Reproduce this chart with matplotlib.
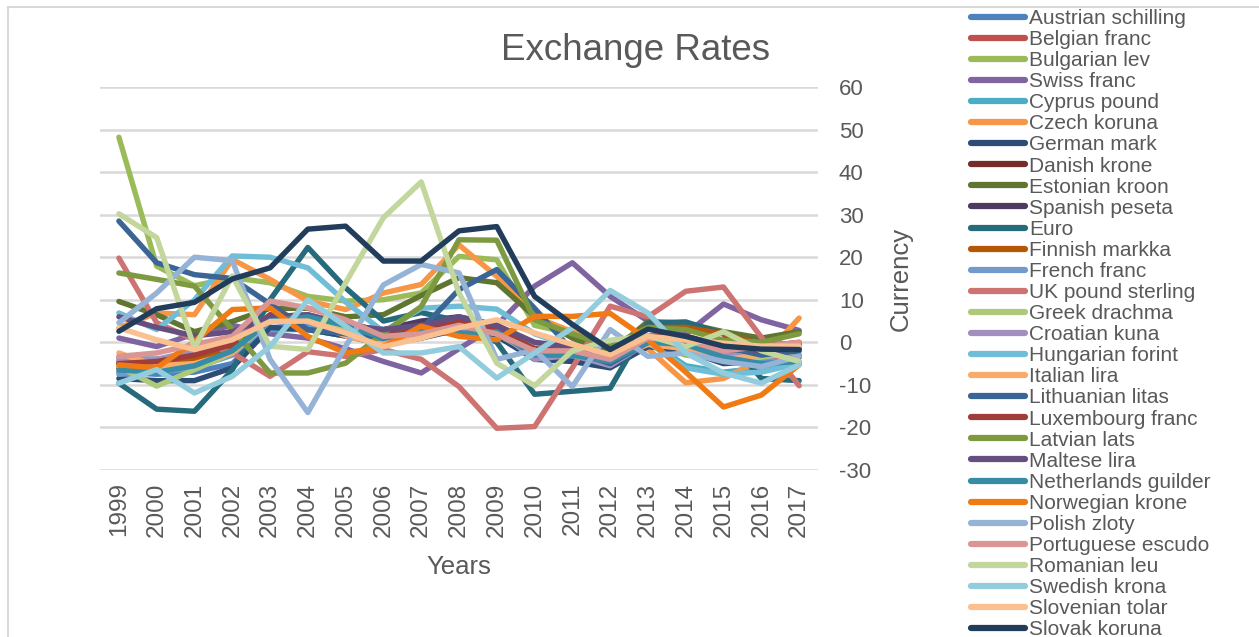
import numpy as np
import matplotlib
matplotlib.use('Agg')
from matplotlib import pyplot as plt
from matplotlib.patches import Rectangle

# data
years = [str(y) for y in range(1999, 2018)]

austrian_schilling = [-7, -7.5, -7, -5, 3.5, 3, 1.5, 0, 1.5, 3, 1.5, -3.5, -3.5, -5.5, -0.5, -1.5, -4.5, -4, -3]
belgian_franc = [-4.5, -4, -3, 0, 6, 5.5, 4, 2.5, 3, 4.5, 3, -2, -2, -4, 1, 1, -1.5, -1, -0.5]
bulgarian_lev = [48.2, 17.9, 13.3, 15.2, 14, 10.8, 9.7, 10, 11.6, 20.2, 19.4, 4, 2, -2, 0, -3, -4, -3, -1]
swiss_franc = [1, -1, 2, 4, 2, 1, -1.5, -4.5, -7.2, -1.5, 4, 13.2, 18.7, 10.8, 5, 2, 9, 5.3, 2.8]
cyprus_pound = [-3.5, -4, -3, -1, 3, 3, 1.5, 1, 2, 3, 2, -2, -2.5, -3.5, 0.5, -5.5, -7, -6, -5]
czech_koruna = [3.4, 6.9, 6.5, 19.5, 14.8, 9.7, 7.7, 11.6, 13.6, 22.9, 15.5, 6, 2.5, -1, -1.5, -9.5, -8.5, -4, 5.7]
german_mark = [-8.5, -9, -9, -6, 3.5, 3, 1.5, -0.5, 1, 3, 1.5, -4, -4.5, -6, -1, -2, -5, -4.5, -3.5]
danish_krone = [-6, -5, -4.5, -1, 6, 5.5, 4, 2, 3, 4, 2.5, -2, -2.5, -4.5, 1, 1, -2, -1.5, -1]
estonian_kroon = [9.6, 6.5, 2.5, 4.9, 8, 8, 6, 6.5, 11, 15.2, 14, 6.1, 1, -2.5, 4.9, 4.5, 2.5, 1, 2.5]
spanish_peseta = [-5, -4.5, -3, 0, 6, 6, 4, 3, 5, 6, 4, -1.5, -2, -5, 0.5, 0.5, -2, -2, -1]
euro = [-9.6, -15.7, -16.2, -6.5, 10, 22.3, 12.8, 5, 7, 5, 0, -12.2, -11.5, -10.8, 4.5, 4.8, 2, -8.5, -9]
finnish_markka = [-6, -5.5, -4, -1, 5, 5, 3, 1.5, 3, 4.5, 3, -1, -1, -3, 3.5, 3.5, 2, -0.5, -0.5]
french_franc = [-7.5, -7, -6, -3, 5, 4, 2.5, 0.5, 2, 3.5, 2, -3, -3, -5, 0, -1, -4, -4, -3]
uk_pound = [19.8, 4.6, 0.6, -2.5, -8, -2.2, -3.3, -1.7, -4, -10.4, -20.2, -19.8, -6, 8.5, 6, 12, 13, 1.2, -10.2]
greek_drachma = [-5.7, -10.3, -6.4, -2.5, 5, 6, 3.5, 1.5, 3, 4, 3, -1, -1.5, -3.5, 1, -2, -4, -3.5, -2]
croatian_kuna = [-4, -4, -2, 1, 6, 6.5, 4.5, 2.5, 3, 4.5, 3, -4, -3, -5.5, 0, -1, -3, -3, -1]
hungarian_forint = [6.9, 3, 10, 20.3, 20, 17.5, 9.5, 2.5, 8, 8.5, 7.8, 2, -1, -3, 0, -6, -7.5, -7, -5]
italian_lira = [-2.5, -5.5, -5, -2.5, 6, 5, 1.5, -0.5, 2, 4, 2, -2.5, -3, -4, -0.5, -1.5, -4, -3, -2]
lithuanian_litas = [28.5, 18.7, 15.9, 15, 9, 3, 2, 1, 3, 12.4, 17.1, 8, -2, -5, 0, 1, -1, -3, -2]
luxembourg_franc = [-5, -4.5, -3, -0.5, 6.5, 6, 4.5, 2.5, 3.5, 5, 3, -1.5, -2, -4, 1.5, 1.5, -1, -1, 0]
latvian_lats = [16.3, 14.8, 13.2, 3, -7.2, -7.2, -4.9, 2.2, 8.4, 24.1, 24, 5.3, 2, -1, 3.5, 3, 0.5, 0, 2]
maltese_lira = [6, 3.5, 1.5, 2.5, 6, 6.5, 4, 3, 4, 6, 4, 0, -1, -3, 1, 1, -1, -2, -1.5]
netherlands_guilder = [-6.5, -7, -5.5, -2, 5, 6, 4, 1, 2.5, 2, 2.5, -3, -3, -4.5, 0, -0.5, -3.5, -5, -4.5]
norwegian_krone = [-5.3, -6, 0.2, 7.7, 8.1, 1.4, -2.5, -1, 3.8, 1.4, 0.6, 6.1, 6.1, 6.8, 0.6, -7, -15.2, -12.4, -5.3]
polish_zloty = [4.6, 11.6, 20, 19.2, -4, -16.5, -0.9, 13.5, 18.3, 16.3, -4, -1.8, -10.4, 3, -3.3, -2.5, -4.5, -5.7, -3.3]
portuguese_escudo = [-3.3, -2.5, -0.5, 1.4, 9.7, 8.1, 5.3, 1.4, 2, 4, 2, -2, -2, -4, 1, 0.5, -2, -1, 0]
romanian_leu = [30.2, 24.6, -1.3, 15.6, -0.9, -1.7, 14, 29.3, 37.7, 11.6, -4.9, -10.2, -2, 0.5, 1.5, -1, 2.5, -2, -4.5]
swedish_krona = [-9.6, -6.4, -11.9, -8, -1, 10, 3.8, -2.5, -2.5, -1, -8.4, -2.5, 3.4, 12.2, 6.9, -2.5, -7.2, -9.6, -5.3]
slovenian_tolar = [3.4, 0.6, -1.7, 0.6, 4.9, 5, 2.2, -1, 1, 3.4, 5.3, 2.2, -0.5, -2.9, 1.4, 0.6, -0.2, -0.9, -0.9]
slovak_koruna = [2.6, 7.9, 9.4, 14.9, 17.5, 26.6, 27.3, 19.1, 19.1, 26.2, 27.2, 10.8, 4.2, -1.7, 3.1, 1.4, -0.9, -1.6, -1.7]

series = [
    ('Austrian schilling', austrian_schilling, '#4F81BD'),
    ('Belgian franc', belgian_franc, '#C0504D'),
    ('Bulgarian lev', bulgarian_lev, '#9BBB59'),
    ('Swiss franc', swiss_franc, '#8064A2'),
    ('Cyprus pound', cyprus_pound, '#4BACC6'),
    ('Czech koruna', czech_koruna, '#F79646'),
    ('German mark', german_mark, '#2C4D75'),
    ('Danish krone', danish_krone, '#772C2A'),
    ('Estonian kroon', estonian_kroon, '#5F7530'),
    ('Spanish peseta', spanish_peseta, '#4D3B62'),
    ('Euro', euro, '#276A7C'),
    ('Finnish markka', finnish_markka, '#B65708'),
    ('French franc', french_franc, '#729ACA'),
    ('UK pound sterling', uk_pound, '#CD7371'),
    ('Greek drachma', greek_drachma, '#AFC97A'),
    ('Croatian kuna', croatian_kuna, '#A18FBF'),
    ('Hungarian forint', hungarian_forint, '#6FBDD6'),
    ('Italian lira', italian_lira, '#F9AB6B'),
    ('Lithuanian litas', lithuanian_litas, '#3A6595'),
    ('Luxembourg franc', luxembourg_franc, '#9E3D3A'),
    ('Latvian lats', latvian_lats, '#7E9A40'),
    ('Maltese lira', maltese_lira, '#654E80'),
    ('Netherlands guilder', netherlands_guilder, '#368DA5'),
    ('Norwegian krone', norwegian_krone, '#F07B14'),
    ('Polish zloty', polish_zloty, '#95B3D7'),
    ('Portuguese escudo', portuguese_escudo, '#D99694'),
    ('Romanian leu', romanian_leu, '#C3D69B'),
    ('Swedish krona', swedish_krona, '#93CDDD'),
    ('Slovenian tolar', slovenian_tolar, '#FAC090'),
    ('Slovak koruna', slovak_koruna, '#223D5C'),
]

text_color = '#595959'
grid_color = '#D9D9D9'
plt.rcParams['font.family'] = ['Liberation Sans', 'DejaVu Sans']
plt.rcParams['axes.unicode_minus'] = False

# figure
fig = plt.figure(figsize=(12.59, 6.37), dpi=100)
ax = fig.add_axes([100 / 1259, 1 - 470 / 637, 718 / 1259, 383 / 637])

# chart border
fig.patches.append(Rectangle((8 / 1259, -0.05), 1.1, 1 - 7 / 637 + 0.05, transform=fig.transFigure,
                             fill=False, edgecolor=grid_color, linewidth=1.5))

# plot
x = np.arange(len(years))
for name, values, color in series:
    ax.plot(x, values, color=color, linewidth=3.9, label=name,
            solid_capstyle='round', solid_joinstyle='round')

# axes
ax.set_xlim(-0.5, len(years) - 0.5)
ax.set_ylim(-30, 60)
ax.set_yticks(range(-30, 61, 10))
ax.yaxis.tick_right()
ax.yaxis.set_label_position('right')
ax.set_xticks(x)
ax.set_xticklabels(years, rotation=90)
ax.tick_params(axis='both', length=0, labelcolor=text_color)
ax.tick_params(axis='x', pad=9, labelsize=17.5)
ax.tick_params(axis='y', pad=15, labelsize=16)
for spine in ax.spines.values():
    spine.set_visible(False)

# grid
ax.grid(axis='y', color=grid_color, linewidth=1.8)
ax.set_axisbelow(True)

# labels
ax.set_xlabel('Years', fontsize=18.5, color=text_color, labelpad=13)
ax.set_ylabel('Currency', fontsize=18.5, color=text_color, labelpad=13)

# title
fig.text(636 / 1259, 1 - 50 / 637, 'Exchange Rates', fontsize=26.5, color=text_color,
         ha='center', va='center')

# legend
leg = fig.legend(loc='upper left', bbox_to_anchor=(971 / 1259, 1 - 9 / 637), frameon=False,
                 fontsize=15, handlelength=2.6, handletextpad=0.2, labelspacing=0.1,
                 borderpad=0, borderaxespad=0)
for text in leg.get_texts():
    text.set_color(text_color)
for line in leg.get_lines():
    line.set_linewidth(4.5)

fig.savefig('out.png', dpi=100)
